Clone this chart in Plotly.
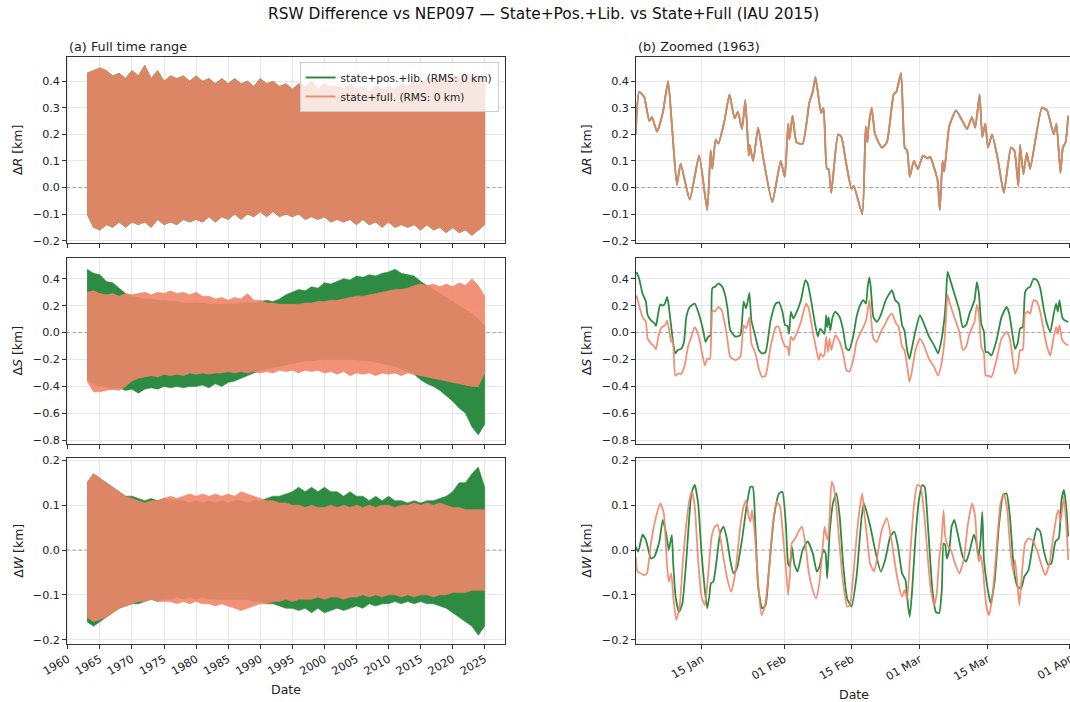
import pandas as pd
import plotly.graph_objects as go

# ---------------- text ----------------
SUPTITLE = "RSW Difference vs NEP097 \u2014 State+Pos.+Lib. vs State+Full (IAU 2015)"
PANEL_A = "(a) Full time range"
PANEL_B = "(b) Zoomed (1963)"
NAME_G = "state+pos.+lib. (RMS: 0 km)"
NAME_S = "state+full. (RMS: 0 km)"
YTITLES = ["\u0394<i>R</i> [km]", "\u0394<i>S</i> [km]", "\u0394<i>W</i> [km]"]

# ---------------- full-range envelopes (yearly peak / trough) ----------------
years = list(range(1963, 2026))
year_ticks = [1960, 1965, 1970, 1975, 1980, 1985, 1990, 1995, 2000, 2005, 2010, 2015, 2020, 2025]

R_up = [0.43, 0.44, 0.45, 0.44, 0.42, 0.43, 0.41, 0.44, 0.42, 0.46,
        0.41, 0.44, 0.40, 0.42, 0.41, 0.42, 0.40, 0.42, 0.40, 0.41,
        0.39, 0.41, 0.39, 0.41, 0.39, 0.40, 0.38, 0.41, 0.39, 0.40,
        0.38, 0.39, 0.37, 0.39, 0.38, 0.40, 0.37, 0.39, 0.38, 0.38,
        0.37, 0.39, 0.37, 0.38, 0.36, 0.38, 0.37, 0.38, 0.37, 0.39,
        0.38, 0.40, 0.39, 0.41, 0.40, 0.42, 0.41, 0.42, 0.41, 0.43,
        0.41, 0.42, 0.41]
R_lo = [-0.10, -0.15, -0.16, -0.14, -0.15, -0.13, -0.15, -0.13, -0.14, -0.13,
        -0.15, -0.12, -0.14, -0.13, -0.14, -0.12, -0.13, -0.12, -0.13, -0.11,
        -0.13, -0.11, -0.12, -0.10, -0.12, -0.10, -0.11, -0.09, -0.11, -0.09,
        -0.11, -0.10, -0.11, -0.10, -0.12, -0.11, -0.12, -0.11, -0.13, -0.12,
        -0.13, -0.12, -0.14, -0.12, -0.14, -0.13, -0.15, -0.13, -0.15, -0.14,
        -0.15, -0.14, -0.16, -0.14, -0.16, -0.15, -0.17, -0.15, -0.17, -0.16,
        -0.18, -0.16, -0.14]

S_g_up = [0.47, 0.44, 0.43, 0.38, 0.37, 0.33, 0.29, 0.27, 0.26, 0.25,
          0.25, 0.24, 0.24, 0.23, 0.23, 0.22, 0.22, 0.22, 0.22, 0.21,
          0.21, 0.21, 0.21, 0.21, 0.22, 0.22, 0.22, 0.23, 0.24, 0.23,
          0.25, 0.28, 0.30, 0.32, 0.31, 0.34, 0.33, 0.37, 0.36, 0.38,
          0.40, 0.39, 0.42, 0.41, 0.43, 0.42, 0.44, 0.45, 0.47, 0.44,
          0.43, 0.42, 0.38, 0.35, 0.32, 0.29, 0.26, 0.23, 0.20, 0.17,
          0.14, 0.10, 0.05]
S_g_lo = [-0.35, -0.38, -0.40, -0.40, -0.42, -0.41, -0.43, -0.42, -0.45, -0.42,
          -0.41, -0.42, -0.40, -0.41, -0.40, -0.41, -0.40, -0.40, -0.39, -0.41,
          -0.38, -0.40, -0.37, -0.36, -0.34, -0.32, -0.30, -0.28, -0.27, -0.26,
          -0.25, -0.24, -0.23, -0.22, -0.21, -0.21, -0.20, -0.20, -0.20, -0.20,
          -0.20, -0.20, -0.20, -0.21, -0.21, -0.22, -0.23, -0.24, -0.25, -0.27,
          -0.29, -0.31, -0.35, -0.38, -0.40, -0.43, -0.47, -0.51, -0.56, -0.60,
          -0.70, -0.76, -0.68]
S_s_up = [0.30, 0.31, 0.29, 0.28, 0.29, 0.27, 0.29, 0.28, 0.29, 0.30,
          0.28, 0.30, 0.29, 0.31, 0.29, 0.30, 0.28, 0.30, 0.27, 0.27,
          0.25, 0.26, 0.24, 0.26, 0.25, 0.29, 0.24, 0.24, 0.22, 0.22,
          0.21, 0.21, 0.21, 0.21, 0.22, 0.22, 0.23, 0.23, 0.24, 0.24,
          0.25, 0.26, 0.27, 0.27, 0.28, 0.29, 0.30, 0.31, 0.32, 0.32,
          0.33, 0.35, 0.36, 0.35, 0.36, 0.34, 0.36, 0.34, 0.37, 0.35,
          0.40, 0.35, 0.27]
S_s_lo = [-0.36, -0.44, -0.44, -0.43, -0.42, -0.43, -0.40, -0.36, -0.34, -0.33,
          -0.32, -0.33, -0.31, -0.32, -0.31, -0.32, -0.30, -0.31, -0.30, -0.31,
          -0.30, -0.30, -0.29, -0.30, -0.29, -0.30, -0.29, -0.30, -0.29, -0.30,
          -0.28, -0.29, -0.28, -0.30, -0.28, -0.29, -0.28, -0.30, -0.29, -0.31,
          -0.29, -0.32, -0.30, -0.31, -0.30, -0.32, -0.30, -0.31, -0.30, -0.32,
          -0.30, -0.31, -0.32, -0.33, -0.34, -0.35, -0.36, -0.37, -0.38, -0.39,
          -0.40, -0.40, -0.30]

W_g_up = [0.15, 0.17, 0.16, 0.15, 0.14, 0.13, 0.12, 0.12, 0.115, 0.11,
          0.115, 0.11, 0.115, 0.11, 0.11, 0.11, 0.105, 0.11, 0.105, 0.11,
          0.105, 0.11, 0.105, 0.11, 0.11, 0.105, 0.11, 0.11, 0.115, 0.12,
          0.12, 0.125, 0.13, 0.14, 0.13, 0.14, 0.13, 0.14, 0.13, 0.13,
          0.12, 0.13, 0.12, 0.12, 0.11, 0.12, 0.11, 0.12, 0.11, 0.11,
          0.105, 0.11, 0.105, 0.11, 0.11, 0.115, 0.12, 0.13, 0.15, 0.15,
          0.17, 0.185, 0.14]
W_g_lo = [-0.16, -0.17, -0.16, -0.15, -0.14, -0.13, -0.125, -0.12, -0.12, -0.115,
          -0.11, -0.115, -0.11, -0.11, -0.105, -0.11, -0.105, -0.11, -0.105, -0.11,
          -0.11, -0.11, -0.11, -0.11, -0.11, -0.11, -0.115, -0.115, -0.12, -0.12,
          -0.125, -0.13, -0.13, -0.135, -0.13, -0.14, -0.13, -0.14, -0.135, -0.13,
          -0.135, -0.13, -0.125, -0.13, -0.12, -0.125, -0.12, -0.12, -0.115, -0.12,
          -0.115, -0.12, -0.115, -0.12, -0.12, -0.125, -0.13, -0.14, -0.15, -0.16,
          -0.17, -0.19, -0.17]
W_s_up = [0.15, 0.17, 0.16, 0.15, 0.14, 0.13, 0.12, 0.115, 0.11, 0.105,
          0.11, 0.11, 0.115, 0.12, 0.115, 0.12, 0.125, 0.12, 0.125, 0.12,
          0.125, 0.12, 0.125, 0.12, 0.13, 0.125, 0.12, 0.115, 0.11, 0.11,
          0.105, 0.105, 0.10, 0.10, 0.095, 0.10, 0.095, 0.095, 0.10, 0.095,
          0.10, 0.095, 0.10, 0.095, 0.10, 0.095, 0.10, 0.10, 0.095, 0.10,
          0.10, 0.105, 0.10, 0.105, 0.10, 0.105, 0.10, 0.095, 0.095, 0.09,
          0.09, 0.09, 0.09]
W_s_lo = [-0.15, -0.16, -0.155, -0.15, -0.14, -0.13, -0.125, -0.12, -0.115, -0.115,
          -0.11, -0.115, -0.115, -0.115, -0.12, -0.115, -0.12, -0.115, -0.12, -0.12,
          -0.125, -0.12, -0.125, -0.13, -0.135, -0.13, -0.125, -0.12, -0.12, -0.115,
          -0.115, -0.11, -0.115, -0.11, -0.11, -0.11, -0.105, -0.11, -0.105, -0.105,
          -0.11, -0.105, -0.105, -0.10, -0.105, -0.10, -0.105, -0.10, -0.10, -0.105,
          -0.10, -0.105, -0.10, -0.10, -0.105, -0.10, -0.10, -0.095, -0.095, -0.095,
          -0.09, -0.09, -0.09]

# ---------------- zoomed window (days since 1963-01-01) ----------------
zoom_start = "1963-01-01"
zoom_tick_dates = ["1963-01-15", "1963-02-01", "1963-02-15", "1963-03-01", "1963-03-15", "1963-04-01"]
zoom_tick_text = ["15 Jan", "01 Feb", "15 Feb", "01 Mar", "15 Mar", "01 Apr"]

zR_days = [0.35, 1.04, 2.09, 3.13, 3.69, 4.74, 5.92, 7.03, 7.87, 8.84, 9.61, 11.49, 13.44, 15.11,
           15.81, 16.16, 16.85, 17.41, 18.66, 19.71, 20.75, 21.45, 22.28, 22.98, 23.68, 23.89,
           24.58, 25.63, 26.60, 28.55, 30.29, 31.13, 31.82, 32.10, 32.73, 33.57, 34.82, 36.21,
           36.91, 37.47, 38.65, 39.14, 39.83, 40.18, 40.74, 42.13, 42.83, 43.73, 44.92, 45.40,
           47.14, 47.84, 48.19, 48.40, 49.09, 49.79, 51.18, 52.23, 53.62, 54.18, 55.15, 55.92,
           56.41, 56.96, 57.80, 58.64, 59.68, 60.58, 61.14, 62.67, 63.16, 63.72, 64.07, 65.11,
           66.50, 67.55, 68.80, 69.78, 70.47, 71.38, 71.94, 72.56, 73.12, 73.96, 75.21, 76.39,
           77.86, 78.55, 79.39, 79.74, 80.43, 81.13, 81.82, 84.26, 85.31, 86.70, 87.26, 88.09,
           88.58, 89.14, 89.69]
zR_vals = [0.20, 0.36, 0.34, 0.25, 0.265, 0.21, 0.28, 0.40, 0.22, 0.01, 0.09, -0.045, 0.12, -0.085,
           0.14, 0.07, 0.18, 0.165, 0.25, 0.35, 0.26, 0.285, 0.22, 0.33, 0.12, 0.16,
           0.10, 0.225, 0.12, -0.055, 0.10, 0.04, 0.24, 0.18, 0.27, 0.17, 0.165, 0.32,
           0.36, 0.415, 0.28, 0.30, 0.07, 0.07, -0.02, 0.20, 0.19, 0.10, -0.005, 0.005,
           -0.10, 0.23, 0.17, 0.22, 0.30, 0.20, 0.15, 0.17, 0.35, 0.36, 0.43, 0.15,
           0.14, 0.04, 0.10, 0.07, 0.12, 0.11, 0.115, 0.03, -0.085, 0.10, 0.06, 0.23,
           0.29, 0.26, 0.22, 0.265, 0.225, 0.35, 0.19, 0.24, 0.15, 0.20, 0.10, -0.02,
           0.15, 0.14, 0.005, 0.16, 0.05, 0.13, 0.07, 0.30, 0.29, 0.20, 0.24, 0.055,
           0.15, 0.17, 0.27]

zSg_days = [0.49, 1.04, 1.74, 2.44, 2.79, 3.48, 4.18, 4.53, 5.01, 5.43, 5.92, 6.41, 6.82, 7.10,
            7.52, 8.01, 8.50, 9.05, 9.75, 10.31, 10.79, 11.49, 12.53, 13.37, 14.28, 14.76,
            15.32, 15.81, 16.16, 16.71, 17.41, 18.11, 18.80, 19.29, 19.85, 20.89, 21.94, 22.63,
            23.12, 23.47, 23.82, 24.23, 25.07, 25.77, 26.46, 27.16, 28.20, 29.25, 29.94, 30.64,
            31.20, 31.69, 32.03, 32.38, 32.87, 33.43, 34.47, 35.38, 35.86, 36.56, 37.26, 37.95,
            38.44, 39.00, 39.35, 39.69, 39.90, 40.18, 40.53, 40.95, 41.57, 42.48, 43.18, 43.87,
            44.43, 45.26, 45.96, 46.66, 47.35, 47.91, 48.26, 48.61, 48.89, 49.44, 50.14, 50.97,
            51.88, 52.58, 53.27, 53.97, 54.67, 55.36, 55.85, 56.41, 56.89, 57.31, 58.15, 59.05,
            59.89, 60.93, 61.98, 62.81, 63.37, 64.07, 64.42, 64.76, 65.32, 66.16, 67.20, 67.90,
            68.59, 69.29, 70.33, 70.82, 71.24, 71.73, 72.28, 72.63, 73.12, 73.82, 74.86, 75.91,
            76.95, 77.51, 78.00, 78.69, 79.25, 79.74, 80.29, 80.78, 81.34, 81.82, 82.52, 83.22,
            83.91, 84.61, 85.31, 86.00, 86.70, 87.19, 87.53, 87.88, 88.44, 89.00, 89.69]
zSg_vals = [0.45, 0.40, 0.29, 0.23, 0.13, 0.09, 0.07, 0.05, 0.15, 0.21, 0.20, 0.22, 0.265, 0.215,
            0.09, -0.06, -0.155, -0.13, -0.12, -0.07, 0.115, 0.19, 0.215, 0.14, 0.015, -0.07,
            -0.03, -0.02, 0.33, 0.34, 0.365, 0.345, 0.28, 0.18, 0.02, -0.03, -0.02, 0.23,
            0.18, 0.23, 0.295, 0.09, -0.03, -0.13, -0.155, -0.145, 0.09, 0.215, 0.225, 0.155,
            0.055, 0.05, -0.01, 0.155, 0.105, 0.14, 0.24, 0.39, 0.365, 0.24, 0.09, -0.03,
            0.03, 0.005, -0.01, 0.13, 0.04, 0.115, 0.015, 0.105, 0.155, 0.115, 0.02, -0.12,
            -0.13, -0.03, 0.115, 0.20, 0.24, 0.215, 0.34, 0.41, 0.34, 0.115, 0.08, 0.13,
            0.23, 0.28, 0.315, 0.24, 0.215, 0.055, 0.015, -0.13, -0.195, -0.13, 0.015, 0.13,
            0.065, -0.03, -0.095, -0.155, -0.08, 0.09, 0.24, 0.45, 0.39, 0.29, 0.165, 0.04,
            0.055, 0.14, 0.24, 0.375, 0.29, 0.065, 0.005, -0.145, -0.145, -0.17, -0.06, 0.115,
            0.19, 0.14, 0.03, -0.12, -0.08, 0.03, 0.04, 0.30, 0.33, 0.34, 0.40, 0.39,
            0.33, 0.18, 0.065, 0.005, 0.14, 0.215, 0.155, 0.24, 0.115, 0.09, 0.08]

zSs_days = [0.49, 1.04, 1.74, 2.44, 2.79, 3.48, 4.18, 4.53, 5.01, 5.71, 6.41, 6.82, 7.31, 7.66,
            8.01, 8.50, 9.05, 9.75, 10.45, 11.14, 11.84, 12.53, 13.23, 13.93, 14.62, 15.11,
            15.67, 16.16, 16.71, 17.41, 18.11, 18.80, 19.29, 19.85, 20.89, 21.94, 22.63, 23.12,
            23.47, 23.82, 24.23, 25.07, 25.77, 26.46, 27.16, 28.20, 29.25, 29.81, 30.64, 31.20,
            31.69, 32.03, 32.38, 32.87, 33.43, 34.47, 35.52, 36.07, 36.77, 37.47, 38.16, 38.51,
            39.00, 39.35, 39.69, 40.04, 40.39, 40.74, 41.57, 42.48, 43.18, 43.87, 44.43, 45.26,
            45.96, 46.66, 47.35, 47.91, 48.26, 48.61, 48.89, 49.44, 50.14, 50.97, 51.88, 52.58,
            53.27, 53.97, 54.67, 55.36, 55.85, 56.41, 56.89, 57.31, 58.15, 59.05, 59.89, 60.93,
            61.98, 62.81, 63.37, 64.07, 64.42, 64.76, 65.32, 66.16, 67.20, 67.90, 68.59, 69.29,
            70.33, 70.82, 71.24, 71.73, 72.28, 72.63, 73.12, 73.82, 74.86, 75.91, 76.95, 77.51,
            78.00, 78.69, 79.25, 79.74, 80.29, 80.78, 81.34, 81.82, 82.52, 83.22, 83.91, 84.61,
            85.31, 86.00, 86.70, 87.19, 87.53, 87.88, 88.44, 89.00, 89.69]
zSs_vals = [0.275, 0.20, 0.115, 0.08, -0.045, -0.08, -0.105, -0.125, -0.03, 0.04, 0.055, 0.09, 0.005, -0.07,
            -0.055, -0.32, -0.305, -0.305, -0.245, -0.105, -0.03, 0.04, -0.01, -0.13, -0.245, -0.195,
            -0.195, 0.165, 0.155, 0.19, 0.165, 0.055, -0.055, -0.18, -0.205, -0.18, 0.055, 0.03,
            0.065, 0.115, -0.08, -0.155, -0.27, -0.33, -0.32, -0.105, 0.04, 0.045, -0.055, -0.105,
            -0.105, -0.17, -0.03, -0.055, -0.02, 0.08, 0.215, 0.18, 0.04, -0.095, -0.205, -0.155,
            -0.18, -0.155, -0.03, -0.145, -0.045, -0.13, -0.02, -0.07, -0.155, -0.28, -0.29, -0.205,
            -0.07, -0.01, 0.04, 0.09, 0.165, 0.24, 0.14, -0.045, -0.07, 0.005, 0.065, 0.115,
            0.14, 0.08, 0.04, -0.105, -0.13, -0.245, -0.365, -0.305, -0.13, -0.045, -0.095, -0.195,
            -0.255, -0.32, -0.255, -0.08, 0.09, 0.28, 0.205, 0.115, 0.005, -0.13, -0.105, -0.01,
            0.08, 0.205, 0.14, -0.105, -0.155, -0.32, -0.32, -0.33, -0.205, -0.045, 0.005, -0.03,
            -0.13, -0.305, -0.255, -0.13, -0.13, 0.14, 0.155, 0.14, 0.24, 0.23, 0.155, 0.02,
            -0.105, -0.17, -0.03, 0.04, -0.01, 0.055, -0.055, -0.08, -0.095]

zWg_days = [0.35, 0.84, 1.74, 2.44, 3.48, 4.18, 5.22, 5.92, 6.62, 7.17, 7.52, 7.80, 8.08, 8.57,
            9.26, 9.96, 10.79, 11.84, 12.53, 13.23, 13.93, 14.62, 15.11, 15.53, 15.88, 16.36,
            17.06, 17.76, 18.45, 19.15, 19.85, 20.54, 21.24, 22.28, 23.33, 24.03, 24.51, 25.07,
            25.63, 26.46, 27.16, 27.86, 28.90, 29.94, 30.64, 31.34, 31.82, 32.17, 32.59, 33.08,
            33.77, 34.82, 35.86, 36.91, 37.74, 38.30, 39.14, 39.55, 39.90, 40.39, 41.09, 41.78,
            42.48, 43.18, 44.01, 44.92, 45.96, 47.01, 47.49, 48.05, 48.89, 49.93, 50.97, 51.88,
            52.92, 53.76, 54.53, 55.36, 56.06, 56.62, 56.96, 57.45, 58.15, 58.84, 59.54, 60.03,
            60.72, 61.63, 62.33, 63.02, 63.58, 63.93, 64.28, 64.62, 65.11, 65.60, 66.16, 66.85,
            67.90, 68.59, 69.29, 70.19, 70.68, 71.17, 71.59, 71.94, 72.28, 72.98, 73.68, 74.51,
            75.35, 76.25, 76.95, 77.65, 78.55, 79.25, 79.94, 80.64, 81.48, 82.31, 83.22, 83.91,
            84.61, 85.52, 86.21, 87.05, 87.74, 88.30, 88.79, 89.28, 89.69]
zWg_vals = [0.007, -0.004, 0.034, 0.022, -0.019, -0.015, 0.019, 0.067, 0.037, 0.0, 0.019, 0.033, -0.03, -0.104,
            -0.138, -0.12, -0.022, 0.126, 0.145, 0.104, -0.007, -0.09, -0.13, -0.104, -0.074, -0.071,
            -0.022, 0.037, 0.052, 0.026, -0.022, -0.052, -0.041, 0.022, 0.104, 0.141, 0.141, 0.045,
            -0.082, -0.13, -0.123, -0.045, 0.074, 0.126, 0.13, 0.059, -0.03, -0.037, 0.007, -0.03,
            -0.048, 0.0, 0.019, -0.007, -0.048, -0.037, 0.0, -0.007, -0.063, 0.037, 0.104, 0.126,
            0.074, -0.03, -0.108, -0.126, -0.059, 0.074, 0.104, 0.085, 0.048, -0.007, -0.048, -0.022,
            0.03, 0.041, 0.007, -0.052, -0.067, -0.126, -0.149, -0.089, 0.03, 0.111, 0.145, 0.141,
            0.052, -0.089, -0.138, -0.141, -0.089, 0.015, 0.011, -0.019, 0.0, 0.052, 0.067, 0.037,
            -0.015, -0.026, -0.004, 0.034, 0.019, -0.015, 0.022, 0.085, -0.022, -0.082, -0.119, -0.067,
            0.052, 0.123, 0.126, 0.074, -0.052, -0.082, -0.086, -0.059, -0.045, 0.007, 0.048, 0.041,
            0.0, -0.033, -0.03, 0.019, 0.026, 0.111, 0.134, 0.097, 0.03]

zWs_days = [0.35, 0.70, 1.39, 2.09, 2.65, 3.48, 4.53, 5.43, 6.13, 6.82, 7.17, 7.66, 8.15, 8.70,
            9.40, 10.10, 10.79, 11.49, 11.98, 12.53, 13.23, 13.93, 14.62, 15.32, 16.02, 16.71,
            17.27, 18.11, 19.15, 20.06, 20.89, 21.94, 22.63, 23.19, 23.68, 24.03, 24.37, 24.93,
            25.63, 26.32, 27.02, 27.86, 28.69, 29.46, 30.15, 30.78, 31.34, 31.82, 32.17, 32.59,
            33.29, 33.98, 34.68, 35.38, 36.07, 36.91, 37.60, 38.30, 38.86, 39.35, 39.69, 40.04,
            40.39, 40.81, 41.23, 41.78, 42.48, 43.18, 44.01, 44.57, 45.26, 46.31, 47.14, 47.56,
            48.05, 48.75, 49.58, 50.14, 51.18, 52.23, 53.27, 54.32, 55.36, 55.92, 56.41, 57.10,
            57.80, 58.50, 59.19, 59.89, 60.72, 61.28, 62.00, 62.53, 63.02, 63.51, 63.93, 64.28,
            64.76, 65.46, 66.30, 67.20, 68.11, 68.94, 69.85, 70.47, 70.89, 71.24, 71.59, 72.08,
            72.77, 73.33, 74.03, 74.86, 75.70, 76.39, 77.09, 77.79, 78.34, 78.69, 79.18, 79.60,
            80.08, 80.78, 81.48, 82.31, 83.22, 84.26, 84.96, 85.79, 86.70, 87.40, 87.74, 88.09,
            88.44, 88.79, 89.28, 89.69]
zWs_vals = [-0.015, -0.048, -0.052, -0.056, -0.052, 0.015, 0.074, 0.104, 0.082, -0.037, -0.071, -0.052, -0.111, -0.156,
            -0.126, -0.022, 0.059, 0.115, 0.13, 0.097, -0.022, -0.104, -0.123, -0.052, 0.03, 0.052,
            0.056, 0.007, -0.059, -0.093, -0.052, 0.052, 0.097, 0.111, 0.074, 0.063, 0.089, 0.037,
            -0.074, -0.145, -0.126, -0.045, 0.059, 0.108, 0.097, 0.03, -0.037, -0.10, -0.059, 0.015,
            0.026, 0.041, 0.052, 0.015, -0.048, -0.089, -0.108, -0.071, -0.007, 0.052, 0.033, 0.022,
            0.074, 0.152, 0.141, 0.097, 0.007, -0.074, -0.126, -0.123, -0.059, 0.067, 0.126, 0.082,
            0.037, -0.03, -0.048, -0.022, 0.045, 0.071, 0.015, -0.059, -0.104, -0.089, -0.111, 0.0,
            0.097, 0.145, 0.141, 0.085, -0.022, -0.086, -0.123, -0.097, -0.022, 0.022, 0.089, 0.03,
            0.011, 0.0, -0.03, -0.052, -0.022, 0.056, 0.104, 0.074, 0.0, -0.026, -0.011, -0.045,
            -0.126, -0.145, -0.104, 0.0, 0.104, 0.126, 0.089, -0.007, -0.048, -0.022, -0.074, -0.123,
            -0.059, 0.015, 0.026, 0.022, 0.0, -0.037, -0.056, -0.03, 0.037, 0.082, 0.089, 0.063,
            0.089, 0.119, 0.059, -0.022]

# ---------------- styling ----------------
W, H = 1070, 702
GREEN = "rgb(46,140,66)"
SALMON = "rgba(240,133,105,0.9)"
FONT = "DejaVu Sans"
TXT = "#222222"
TICK_SIZE = 11.2
LABEL_SIZE = 12.5

LEFT_DOM = [66.7 / W, 505.0 / W]
RIGHT_DOM = [635.7 / W, 1.0]
ROW_PX = [(57.3, 243.3), (257.7, 444.0), (458.3, 644.0)]
ROW_DOM = [[1 - b / H, 1 - t / H] for t, b in ROW_PX]
Y_RANGES = [[-0.21, 0.49], [-0.8275, 0.556], [-0.2096, 0.2045]]
Y_TICKS = [[-0.2, -0.1, 0.0, 0.1, 0.2, 0.3, 0.4],
           [-0.8, -0.6, -0.4, -0.2, 0.0, 0.2, 0.4],
           [-0.2, -0.1, 0.0, 0.1, 0.2]]

base = pd.Timestamp(zoom_start)


def to_dates(days):
    return [(base + pd.Timedelta(days=d)).strftime("%Y-%m-%d %H:%M:%S") for d in days]


year_dates = [f"{y}-01-01" for y in years]
left_range = ["1959-10-30", "2028-02-28"]
right_range = to_dates([0.33, 90.06])

fig = go.Figure()


def add_zero(ax, xr):
    fig.add_trace(go.Scatter(x=xr, y=[0, 0], xaxis="x" + ax, yaxis="y" + ax, mode="lines",
                             line=dict(color="#8a8a8a", width=0.8, dash="dot"),
                             hoverinfo="skip", showlegend=False))


def add_band(ax, up, lo, color):
    xs = year_dates + year_dates[::-1]
    ys = list(up) + list(lo)[::-1]
    fig.add_trace(go.Scatter(x=xs, y=ys, xaxis="x" + ax, yaxis="y" + ax, mode="lines",
                             fill="toself", fillcolor=color, line=dict(color=color, width=0.6),
                             hoverinfo="skip", showlegend=False))


def add_line(ax, days, vals, color, name=None, legend=False):
    fig.add_trace(go.Scatter(x=to_dates(days), y=vals, xaxis="x" + ax, yaxis="y" + ax,
                             mode="lines", line=dict(color=color, width=1.8, shape="spline", smoothing=0.5),
                             name=name, showlegend=legend, hoverinfo="skip"))


for ax, xr in (("", left_range), ("2", right_range), ("3", left_range),
               ("4", right_range), ("5", left_range), ("6", right_range)):
    add_zero(ax, xr)

# Row 1 (R)
add_band("", R_up, R_lo, GREEN)
add_band("", R_up, R_lo, SALMON)
add_line("2", zR_days, zR_vals, GREEN, NAME_G, True)
add_line("2", zR_days, zR_vals, SALMON, NAME_S, True)
# Row 2 (S)
add_band("3", S_g_up, S_g_lo, GREEN)
add_band("3", S_s_up, S_s_lo, SALMON)
add_line("4", zSg_days, zSg_vals, GREEN)
add_line("4", zSs_days, zSs_vals, SALMON)
# Row 3 (W)
add_band("5", W_g_up, W_g_lo, GREEN)
add_band("5", W_s_up, W_s_lo, SALMON)
add_line("6", zWg_days, zWg_vals, GREEN)
add_line("6", zWs_days, zWs_vals, SALMON)

axis_common = dict(showline=True, linecolor="#333333", linewidth=1, ticks="outside", ticklen=3.5,
                   tickwidth=0.9, tickcolor="#333333", showgrid=True, gridcolor="#e6e6e6",
                   gridwidth=0.8, zeroline=False, tickfont=dict(family=FONT, size=TICK_SIZE, color=TXT))

layout = dict(width=W, height=H, margin=dict(l=0, r=0, t=0, b=0), template="none",
              paper_bgcolor="white", plot_bgcolor="white", hovermode=False,
              font=dict(family=FONT, color=TXT),
              legend=dict(x=498.6 / W, y=1 - 62 / H, xanchor="right", yanchor="top",
                          bgcolor="rgba(255,255,255,0.8)", bordercolor="#cccccc", borderwidth=1,
                          font=dict(family=FONT, size=10.6, color=TXT), tracegroupgap=0,
                          itemwidth=30, traceorder="normal"))

annotations = []
for r in range(3):
    li = 2 * r + 1
    ri = 2 * r + 2
    lname = "" if li == 1 else str(li)
    rname = str(ri)
    bottom = (r == 2)
    layout["xaxis" + lname] = dict(axis_common, type="date", domain=LEFT_DOM, range=left_range,
                                   anchor="y" + lname, mirror=True,
                                   tickvals=[f"{y}-01-01" for y in year_ticks],
                                   ticktext=[str(y) for y in year_ticks],
                                   tickangle=-30, showticklabels=bottom)
    layout["yaxis" + lname] = dict(axis_common, domain=ROW_DOM[r], range=Y_RANGES[r],
                                   anchor="x" + lname, mirror=True, tickvals=Y_TICKS[r],
                                   tickformat=".1f")
    layout["xaxis" + rname] = dict(axis_common, type="date", domain=RIGHT_DOM, range=right_range,
                                   anchor="y" + rname, mirror=True,
                                   tickvals=[d + " 00:00:00" for d in zoom_tick_dates],
                                   ticktext=zoom_tick_text, tickangle=-30, showticklabels=bottom,
                                   ticklabeloverflow="allow")
    layout["yaxis" + rname] = dict(axis_common, domain=ROW_DOM[r], range=Y_RANGES[r],
                                   anchor="x" + rname, mirror=False, tickvals=Y_TICKS[r],
                                   tickformat=".1f")
    yc = 1 - (ROW_PX[r][0] + ROW_PX[r][1]) / 2 / H
    for xpx in (17.7, 586.5):
        annotations.append(dict(text=YTITLES[r], x=xpx / W, y=yc, xref="paper", yref="paper",
                                textangle=-90, showarrow=False, xanchor="center", yanchor="middle",
                                font=dict(family=FONT, size=LABEL_SIZE, color=TXT)))

annotations += [
    dict(text=SUPTITLE, x=543 / W, y=1 - 14 / H, xref="paper", yref="paper", showarrow=False,
         xanchor="center", yanchor="middle", font=dict(family=FONT, size=15.4, color="#111111")),
    dict(text=PANEL_A, x=66.7 / W, y=1 - 46 / H, xref="paper", yref="paper", showarrow=False,
         xanchor="left", yanchor="middle", font=dict(family=FONT, size=12.8, color=TXT)),
    dict(text=PANEL_B, x=636 / W, y=1 - 46 / H, xref="paper", yref="paper", showarrow=False,
         xanchor="left", yanchor="middle", font=dict(family=FONT, size=12.8, color=TXT)),
    dict(text="Date", x=286 / W, y=1 - 689 / H, xref="paper", yref="paper", showarrow=False,
         xanchor="center", yanchor="middle", font=dict(family=FONT, size=LABEL_SIZE, color=TXT)),
    dict(text="Date", x=854 / W, y=1 - 694 / H, xref="paper", yref="paper", showarrow=False,
         xanchor="center", yanchor="middle", font=dict(family=FONT, size=LABEL_SIZE, color=TXT)),
]
layout["annotations"] = annotations

fig.update_layout(**layout)
fig.write_html("out.html", config={"displayModeBar": False})
